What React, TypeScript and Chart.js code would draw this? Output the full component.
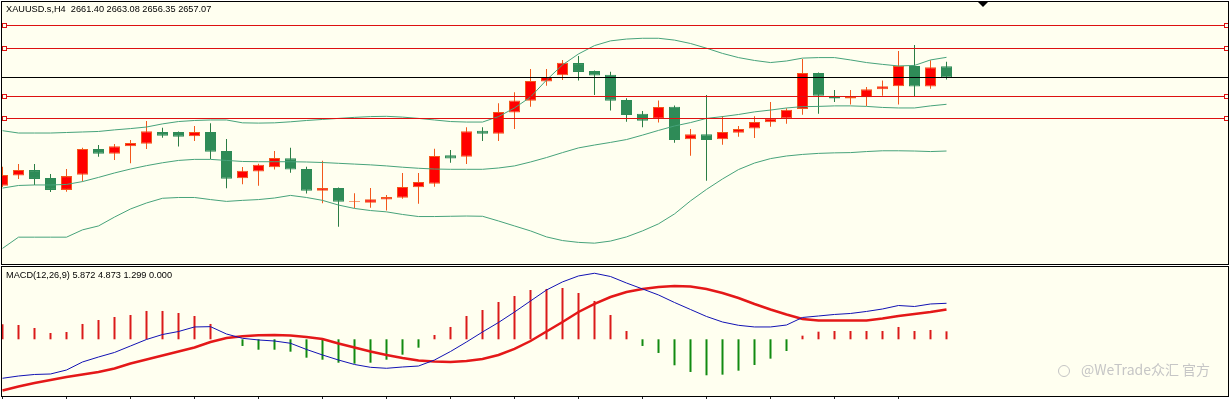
import React, { useEffect, useRef } from "react";
import { Chart, registerables } from "chart.js";

Chart.register(...registerables);

// ---------------- data ----------------
const symbolTitle = "XAUUSD.s,H4";
const lastBarOHLC = [2661.4, 2663.08, 2656.35, 2657.07];
const macdTitle = "MACD(12,26,9)";
const macdReadout = ["5.872", "4.873", "1.299", "0.000"];
const watermarkText = "@WeTrade众汇 官方";

const opens = [
  2615.6, 2619.5, 2621.6, 2618.6, 2614.0, 2619.8, 2629.7, 2627.9, 2630.7, 2631.7,
  2636.2, 2636.2, 2634.6, 2636.2, 2628.9, 2618.5, 2621.1, 2622.7, 2626.1, 2622.0,
  2613.7, 2614.7, 2609.5, 2609.1, 2610.3, 2611.0, 2615.0, 2616.4, 2627.3, 2626.7,
  2636.7, 2635.5, 2643.7, 2648.2, 2655.5, 2657.9, 2662.6, 2659.6, 2658.1, 2648.5,
  2643.2, 2641.3, 2645.9, 2633.4, 2635.3, 2633.4, 2635.9, 2637.5, 2639.9, 2641.4,
  2645.0, 2658.8, 2649.6, 2649.0, 2649.5, 2652.6, 2653.7, 2661.5, 2653.6, 2661.4,
];
const highs = [
  2622.9, 2623.9, 2623.9, 2620.1, 2622.0, 2630.2, 2631.2, 2631.6, 2633.1, 2640.4,
  2637.8, 2636.4, 2638.5, 2639.5, 2633.5, 2622.8, 2624.0, 2628.9, 2630.2, 2622.9,
  2625.2, 2614.9, 2612.7, 2614.7, 2612.1, 2620.5, 2620.5, 2629.8, 2629.3, 2638.0,
  2638.0, 2647.2, 2651.4, 2660.3, 2660.3, 2663.8, 2665.3, 2659.8, 2659.3, 2649.1,
  2644.2, 2648.3, 2646.3, 2637.3, 2650.4, 2642.3, 2638.5, 2642.2, 2647.7, 2645.3,
  2664.2, 2659.0, 2652.3, 2652.3, 2653.4, 2655.9, 2667.2, 2669.5, 2663.7, 2663.08,
];
const lows = [
  2615.1, 2618.2, 2615.9, 2613.2, 2613.3, 2617.2, 2626.7, 2625.5, 2624.2, 2629.7,
  2634.0, 2630.6, 2632.7, 2625.8, 2614.6, 2616.2, 2615.6, 2621.8, 2620.6, 2612.6,
  2608.9, 2599.9, 2607.0, 2607.2, 2606.1, 2610.6, 2608.7, 2615.2, 2624.4, 2623.9,
  2632.7, 2632.7, 2637.3, 2645.9, 2653.9, 2656.1, 2655.9, 2650.4, 2644.4, 2640.1,
  2638.0, 2639.8, 2632.1, 2627.1, 2617.5, 2631.3, 2634.4, 2633.9, 2638.2, 2639.4,
  2642.8, 2643.2, 2647.7, 2646.7, 2646.2, 2650.1, 2646.7, 2650.0, 2652.8, 2656.35,
];
const closes = [
  2619.7, 2621.6, 2618.2, 2614.0, 2619.3, 2629.7, 2627.9, 2630.7, 2632.0, 2636.5,
  2634.8, 2634.4, 2636.2, 2628.6, 2618.3, 2621.3, 2623.6, 2626.2, 2621.8, 2613.7,
  2614.7, 2609.5, 2609.8, 2610.4, 2611.3, 2615.1, 2617.0, 2627.0, 2626.0, 2636.5,
  2635.5, 2643.9, 2648.3, 2655.7, 2657.3, 2662.7, 2659.2, 2657.8, 2648.2, 2642.7,
  2640.5, 2645.8, 2633.1, 2635.3, 2633.1, 2636.2, 2637.3, 2640.0, 2641.4, 2644.7,
  2658.8, 2650.1, 2649.0, 2649.7, 2652.6, 2653.7, 2661.5, 2653.6, 2661.0, 2657.07,
];

const bbUpper = [
  2636.7, 2635.8, 2635.8, 2635.8, 2636.0, 2636.2, 2636.4, 2637.0, 2637.5, 2638.1,
  2639.3, 2640.2, 2640.6, 2640.8, 2640.8, 2639.7, 2639.6, 2639.7, 2640.1, 2640.6,
  2641.0, 2641.4, 2641.8, 2642.1, 2642.2, 2641.9, 2641.4, 2640.8, 2640.2, 2640.0,
  2640.0, 2642.1, 2645.4, 2649.6, 2656.1, 2661.9, 2666.1, 2669.3, 2671.1, 2671.8,
  2672.1, 2672.1, 2671.4, 2670.1, 2668.3, 2666.3, 2664.7, 2663.6, 2662.8, 2663.4,
  2664.5, 2664.7, 2664.7, 2663.8, 2662.8, 2662.1, 2661.5, 2661.7, 2663.8, 2664.8,
];
const bbMiddle = [
  2614.7, 2615.7, 2615.9, 2615.9, 2616.1, 2617.2, 2618.8, 2620.5, 2622.0, 2623.3,
  2624.4, 2625.3, 2625.7, 2625.7, 2625.3, 2624.9, 2624.8, 2624.8, 2624.8, 2624.7,
  2624.5, 2624.2, 2623.9, 2623.6, 2623.2, 2622.7, 2622.3, 2622.0, 2621.9, 2621.9,
  2621.9, 2622.4, 2623.2, 2624.7, 2626.4, 2628.3, 2630.1, 2631.2, 2632.2, 2633.3,
  2635.0, 2636.8, 2638.5, 2639.8, 2641.4, 2642.1, 2642.9, 2643.9, 2644.6, 2645.4,
  2645.9, 2646.0, 2646.2, 2646.2, 2646.0, 2645.6, 2645.4, 2645.4, 2646.2, 2646.8,
];
const bbLower = [
  2591.6, 2595.9, 2595.9, 2595.9, 2595.9, 2598.7, 2600.2, 2603.6, 2606.7, 2609.0,
  2610.8, 2611.1, 2611.1, 2610.3, 2609.6, 2610.0, 2610.3, 2610.9, 2611.9, 2611.1,
  2610.0, 2608.2, 2606.9, 2606.1, 2605.6, 2604.6, 2603.8, 2603.8, 2603.9, 2604.0,
  2603.9, 2602.1, 2600.2, 2598.3, 2596.0, 2594.6, 2593.9, 2593.6, 2594.4, 2596.0,
  2598.3, 2601.0, 2604.8, 2609.8, 2614.2, 2618.2, 2621.8, 2624.3, 2626.0, 2627.0,
  2627.6, 2628.0, 2628.2, 2628.3, 2628.7, 2629.0, 2629.0, 2628.9, 2628.7, 2628.9,
];

const levelLines = [2677.0, 2668.2, 2649.8, 2641.4];
const bidPrice = 2657.07;

const macdMain = [
  -6.36, -5.99, -5.74, -5.66, -5.01, -3.7, -2.89, -2.15, -1.09, -0.03,
  0.78, 1.27, 2.01, 2.06, 0.86, 0.16, -0.11, -0.28, -0.65, -1.66,
  -2.56, -3.38, -4.11, -4.57, -4.73, -4.52, -4.36, -3.38, -1.99, -0.44,
  1.19, 2.74, 4.45, 6.25, 8.04, 9.36, 10.33, 10.77, 10.24, 9.18,
  8.21, 7.23, 6.0, 4.86, 3.72, 2.82, 2.28, 2.01, 2.01, 2.33,
  3.56, 3.8, 4.05, 4.21, 4.54, 4.94, 5.51, 5.35, 5.76, 5.872,
];
const macdSignal = [
  -8.35, -7.7, -7.13, -6.64, -6.15, -5.74, -5.33, -4.76, -3.95, -3.3,
  -2.64, -1.99, -1.34, -0.44, 0.21, 0.49, 0.65, 0.7, 0.62, 0.38,
  0.05, -0.69, -1.34, -1.99, -2.56, -3.05, -3.46, -3.62, -3.7, -3.54,
  -3.21, -2.56, -1.58, -0.28, 1.27, 2.82, 4.45, 5.76, 6.9, 7.72,
  8.21, 8.53, 8.7, 8.61, 8.21, 7.55, 6.74, 5.76, 4.86, 4.05,
  3.31, 3.07, 3.07, 3.07, 3.07, 3.39, 3.8, 4.13, 4.45, 4.873,
];
const macdHist = [
  2.45, 2.33, 1.84, 1.03, 1.19, 2.5, 3.15, 3.64, 3.96, 4.62,
  4.62, 4.29, 3.8, 2.5, 0, -1.09, -1.7, -1.7, -2.02, -3.0,
  -3.33, -3.82, -3.98, -3.82, -3.33, -2.51, -1.37, 0.7, 2.01, 3.8,
  4.78, 6.08, 7.06, 8.04, 8.21, 8.37, 7.55, 6.25, 3.96, 1.35,
  -1.09, -2.23, -4.24, -5.33, -5.87, -5.77, -5.12, -4.19, -3.16, -1.91,
  0.59, 1.24, 1.35, 1.35, 1.35, 1.35, 2.01, 1.35, 1.52, 1.299,
];

const priceRange = [2586, 2686];
const macdRange = [-9.25, 11.79];
const barIndexRange = [-0.03125, 76.59375];
const barsPerTimeTick = 4;

// ---------------- styles ----------------
const IVORY = "#FFFFF0";
const UP_FILL = "#FF0000";
const UP_EDGE = "#F2581C";
const DOWN_FILL = "#2E8B57";
const DOWN_WICK = "#2B7D45";
const BAND = "#47A37B";
const LEVEL_RED = "#DD1111";
const HIST_UP = "#DA1A1A";
const HIST_DOWN = "#118A11";
const MAIN_W = 1230;
const MAIN_H = 265;
const MACD_H = 134;

const idx = opens.map((_, i) => i);
const isUp = (i: number) => closes[i] >= opens[i];

const baseOptions = (yMin: number, yMax: number, pad: any) => ({
  animation: false as const,
  responsive: false,
  devicePixelRatio: 1,
  events: [] as any[],
  layout: { padding: pad },
  plugins: { legend: { display: false }, tooltip: { enabled: false }, title: { display: false } },
  scales: {
    x: {
      type: "linear" as const,
      min: barIndexRange[0],
      max: barIndexRange[1],
      display: false,
      offset: false,
      bounds: "data" as const,
      grid: { display: false },
    },
    y: {
      type: "linear" as const,
      min: yMin,
      max: yMax,
      display: false,
      beginAtZero: false,
      bounds: "data" as const,
      grid: { display: false },
    },
  },
});

const mainDecor = {
  id: "mainDecor",
  beforeDraw(chart: any) {
    const { ctx } = chart;
    ctx.save();
    ctx.fillStyle = "#FFFFFF";
    ctx.fillRect(0, 0, MAIN_W, MAIN_H);
    ctx.fillStyle = IVORY;
    ctx.fillRect(1, 1, MAIN_W - 2, MAIN_H - 1);
    ctx.restore();
  },
  afterDatasetsDraw(chart: any) {
    const { ctx } = chart;
    const y = chart.scales.y;
    ctx.save();
    ctx.lineWidth = 1;
    // bid line
    const by = Math.floor(y.getPixelForValue(bidPrice)) + 0.5;
    ctx.strokeStyle = "#000000";
    ctx.beginPath();
    ctx.moveTo(1, by);
    ctx.lineTo(MAIN_W - 1, by);
    ctx.stroke();
    // horizontal levels with end markers
    for (const lvl of levelLines) {
      const py = Math.floor(y.getPixelForValue(lvl)) + 0.5;
      ctx.strokeStyle = LEVEL_RED;
      ctx.beginPath();
      ctx.moveTo(1, py);
      ctx.lineTo(MAIN_W - 1, py);
      ctx.stroke();
      for (const mx of [2.5, MAIN_W - 5.5]) {
        ctx.fillStyle = IVORY;
        ctx.fillRect(mx, py - 2, 4, 4);
        ctx.strokeRect(mx, py - 2, 4, 4);
      }
    }
    ctx.restore();
  },
  afterDraw(chart: any) {
    const { ctx } = chart;
    ctx.save();
    ctx.strokeStyle = "#000000";
    ctx.lineWidth = 1;
    ctx.strokeRect(1.5, 1.5, MAIN_W - 2.5 - 0.5, MAIN_H - 2);
    // chart shift marker
    ctx.fillStyle = "#000000";
    ctx.beginPath();
    ctx.moveTo(977.5, 1.5);
    ctx.lineTo(988.5, 1.5);
    ctx.lineTo(983, 7);
    ctx.closePath();
    ctx.fill();
    ctx.restore();
  },
};

const macdDecor = {
  id: "macdDecor",
  beforeDraw(chart: any) {
    const { ctx } = chart;
    ctx.save();
    ctx.fillStyle = "#FFFFFF";
    ctx.fillRect(0, 0, MAIN_W, MACD_H);
    ctx.fillStyle = IVORY;
    ctx.fillRect(1, 1, MAIN_W - 2, 131);
    ctx.restore();
  },
  afterDraw(chart: any) {
    const { ctx } = chart;
    const x = chart.scales.x;
    ctx.save();
    ctx.strokeStyle = "#000000";
    ctx.lineWidth = 1;
    ctx.strokeRect(1.5, 1.5, MAIN_W - 3, 130);
    ctx.strokeStyle = "#222222";
    for (let k = 0; k < opens.length; k += barsPerTimeTick) {
      const px = Math.floor(x.getPixelForValue(k)) + 0.5;
      ctx.beginPath();
      ctx.moveTo(px, 132);
      ctx.lineTo(px, 134);
      ctx.stroke();
    }
    ctx.restore();
  },
};

export default function App() {
  const mainRef = useRef<HTMLCanvasElement | null>(null);
  const macdRef = useRef<HTMLCanvasElement | null>(null);

  useEffect(() => {
    document.body.style.margin = "0";
    const lineDs = (label: string, values: number[], color: string, width: number, order: number) => ({
      type: "line" as const,
      label,
      data: idx.map((i) => ({ x: i, y: values[i] })),
      borderColor: color,
      borderWidth: width,
      pointRadius: 0,
      tension: 0,
      fill: false,
      order,
    });

    const main = new Chart(mainRef.current as HTMLCanvasElement, {
      type: "bar",
      data: {
        datasets: [
          lineDs("BB upper", bbUpper, BAND, 1, 0) as any,
          lineDs("BB middle", bbMiddle, BAND, 1, 0) as any,
          lineDs("BB lower", bbLower, BAND, 1, 0) as any,
          {
            type: "bar",
            label: "body",
            data: idx.map((i) => ({ x: i, y: [Math.min(opens[i], closes[i]), Math.max(opens[i], closes[i])] })),
            backgroundColor: idx.map((i) => (isUp(i) ? UP_FILL : DOWN_FILL)),
            borderColor: idx.map((i) => (isUp(i) ? UP_EDGE : DOWN_FILL)),
            borderWidth: 1,
            borderSkipped: false,
            grouped: false,
            maxBarThickness: 11,
            categoryPercentage: 1,
            barPercentage: 1,
            inflateAmount: 0,
            order: 1,
          } as any,
          {
            type: "bar",
            label: "wick",
            data: idx.map((i) => ({ x: i, y: [lows[i], highs[i]] })),
            backgroundColor: idx.map((i) => (isUp(i) ? UP_EDGE : DOWN_WICK)),
            borderWidth: 0,
            grouped: false,
            maxBarThickness: 1,
            categoryPercentage: 1,
            barPercentage: 1,
            inflateAmount: 0,
            order: 2,
          } as any,
        ],
      },
      options: baseOptions(priceRange[0], priceRange[1], { left: 2, right: 2, top: 2, bottom: 2 }) as any,
      plugins: [mainDecor],
    });

    const macd = new Chart(macdRef.current as HTMLCanvasElement, {
      type: "bar",
      data: {
        datasets: [
          lineDs("MACD", macdMain, "#1212B4", 1, 0) as any,
          lineDs("Signal", macdSignal, "#E41818", 2.5, 1) as any,
          {
            type: "bar",
            label: "Histogram",
            data: idx.map((i) => ({ x: i, y: macdHist[i] })),
            backgroundColor: idx.map((i) => (macdHist[i] >= 0 ? HIST_UP : HIST_DOWN)),
            borderWidth: 0,
            grouped: false,
            maxBarThickness: 2,
            categoryPercentage: 1,
            barPercentage: 1,
            inflateAmount: 0,
            order: 2,
          } as any,
        ],
      },
      options: baseOptions(macdRange[0], macdRange[1], { left: 2, right: 2, top: 2, bottom: 3 }) as any,
      plugins: [macdDecor],
    });

    return () => {
      main.destroy();
      macd.destroy();
    };
  }, []);

  const labelFont: React.CSSProperties = {
    position: "absolute",
    fontFamily: "'Liberation Sans', Arial, sans-serif",
    fontSize: "9.2px",
    lineHeight: "9.2px",
    color: "#000",
    whiteSpace: "pre",
    zIndex: 2,
  };

  return (
    <div
      style={{
        position: "fixed",
        left: 0,
        top: 0,
        width: MAIN_W,
        height: 399,
        background: "#FFFFFF",
        overflow: "hidden",
      }}
    >
      <canvas
        ref={mainRef}
        width={MAIN_W}
        height={MAIN_H}
        style={{ position: "absolute", left: 0, top: 0, width: MAIN_W, height: MAIN_H, display: "block" }}
      />
      <canvas
        ref={macdRef}
        width={MAIN_W}
        height={MACD_H}
        style={{ position: "absolute", left: 0, top: MAIN_H, width: MAIN_W, height: MACD_H, display: "block" }}
      />
      <div style={{ ...labelFont, left: 6, top: 5 }}>
        {`${symbolTitle}  ${lastBarOHLC.map((v) => v.toFixed(2)).join(" ")}`}
      </div>
      <div style={{ ...labelFont, left: 6, top: 271 }}>{`${macdTitle} ${macdReadout.join(" ")}`}</div>
      <div
        style={{
          position: "absolute",
          left: 1058,
          top: 365,
          width: 10,
          height: 10,
          border: "1.5px solid #C4C4C4",
          borderRadius: "50%",
          zIndex: 2,
        }}
      />
      <div
        style={{
          position: "absolute",
          left: 1081,
          top: 361,
          fontFamily: "'Noto Sans CJK SC', 'Noto Sans', sans-serif",
          fontSize: "14px",
          lineHeight: "16px",
          color: "#C6C6C6",
          whiteSpace: "pre",
          zIndex: 2,
        }}
      >
        {watermarkText}
      </div>
    </div>
  );
}
